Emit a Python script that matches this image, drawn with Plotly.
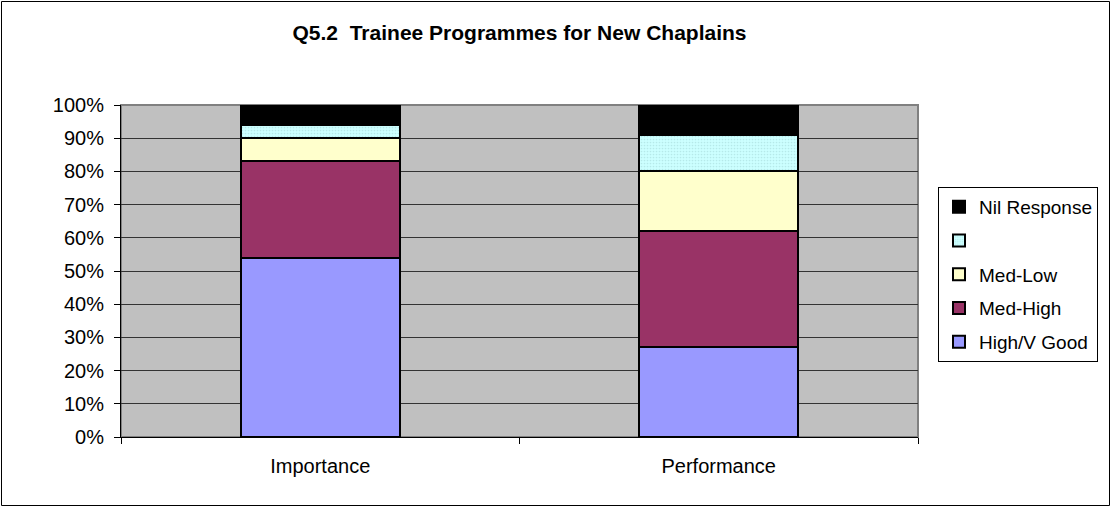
import plotly.graph_objects as go

categories = ["Importance", "Performance"]
series_names = ["High/V Good", "Med-High", "Med-Low", "", "Nil Response"]
high_vgood = [54, 27]
med_high = [29, 35]
med_low = [7, 18]
unlabelled = [4, 11]
nil_response = [6, 9]
y_ticks = [0, 10, 20, 30, 40, 50, 60, 70, 80, 90, 100]
y_tick_labels = [f"{v}%" for v in y_ticks]

series_values = [high_vgood, med_high, med_low, unlabelled, nil_response]
colors = ["#9999FF", "#993366", "#FFFFCC", "#CCFFFF", "#000000"]

FONT = "Liberation Sans, Arial, sans-serif"

fig = go.Figure()
n = len(series_names)
for i, (name, vals, col) in enumerate(zip(series_names, series_values, colors)):
    marker = dict(color=col, line=dict(color="#000000", width=2))
    if name == "":
        marker["pattern"] = dict(shape=".", bgcolor="#CCFFFF", fgcolor="#9FD3D3",
                                 size=3, solidity=0.25)
    fig.add_trace(go.Bar(x=categories, y=vals, name=name, marker=marker, width=0.4,
                         legendgroup=f"g{i}", legendrank=n - i))

L, R, T, B = 121, 918, 105, 437
W, H = 1111, 507
pw, ph = R - L, B - T

def px_x(x):
    return (x - L) / pw

def px_y(y):
    return (B - y) / ph

fig.update_layout(
    width=W, height=H,
    margin=dict(l=L, r=W - R, t=T, b=H - B, autoexpand=False),
    barmode="stack",
    paper_bgcolor="#FFFFFF",
    plot_bgcolor="#C0C0C0",
    font=dict(family=FONT, size=20, color="#000000"),
    title=dict(text="<b>Q5.2  Trainee Programmes for New Chaplains</b>",
               font=dict(family=FONT, size=21, color="#000000"),
               x=0.5, xref="paper", xanchor="center",
               y=1 - 33 / H, yref="container", yanchor="middle"),
    showlegend=True,
    legend=dict(traceorder="grouped", x=px_x(938), xanchor="left",
                y=px_y(187), yanchor="top", bgcolor="#FFFFFF",
                bordercolor="#000000", borderwidth=1,
                font=dict(family=FONT, size=19, color="#000000"),
                itemwidth=30, tracegroupgap=6),
    bargap=0.6,
    xaxis=dict(showgrid=False, showline=True, linecolor="#000000", linewidth=1,
               ticks="outside", tickson="boundaries", ticklen=6,
               tickcolor="#000000", ticklabelstandoff=11,
               range=[-0.5, 1.5]),
    yaxis=dict(range=[0, 100], tickmode="array", tickvals=y_ticks,
               ticktext=y_tick_labels,
               showgrid=True, gridcolor="#333333", gridwidth=1,
               showline=True, linecolor="#000000", linewidth=1,
               ticks="outside", ticklen=6, tickcolor="#000000",
               ticklabelstandoff=6, zeroline=False),
    shapes=[
        dict(type="rect", xref="paper", yref="paper", x0=0, x1=1, y0=0, y1=1,
             line=dict(color="#808080", width=2), layer="below"),
        dict(type="rect", xref="paper", yref="paper",
             x0=px_x(1.5), x1=px_x(W - 1.5), y0=px_y(H - 1.5), y1=px_y(1.5),
             line=dict(color="#000000", width=1), layer="above"),
    ],
)

fig.write_html("out.html", config={"displayModeBar": False},
               post_script="document.body.style.margin='0';document.body.style.padding='0';")
